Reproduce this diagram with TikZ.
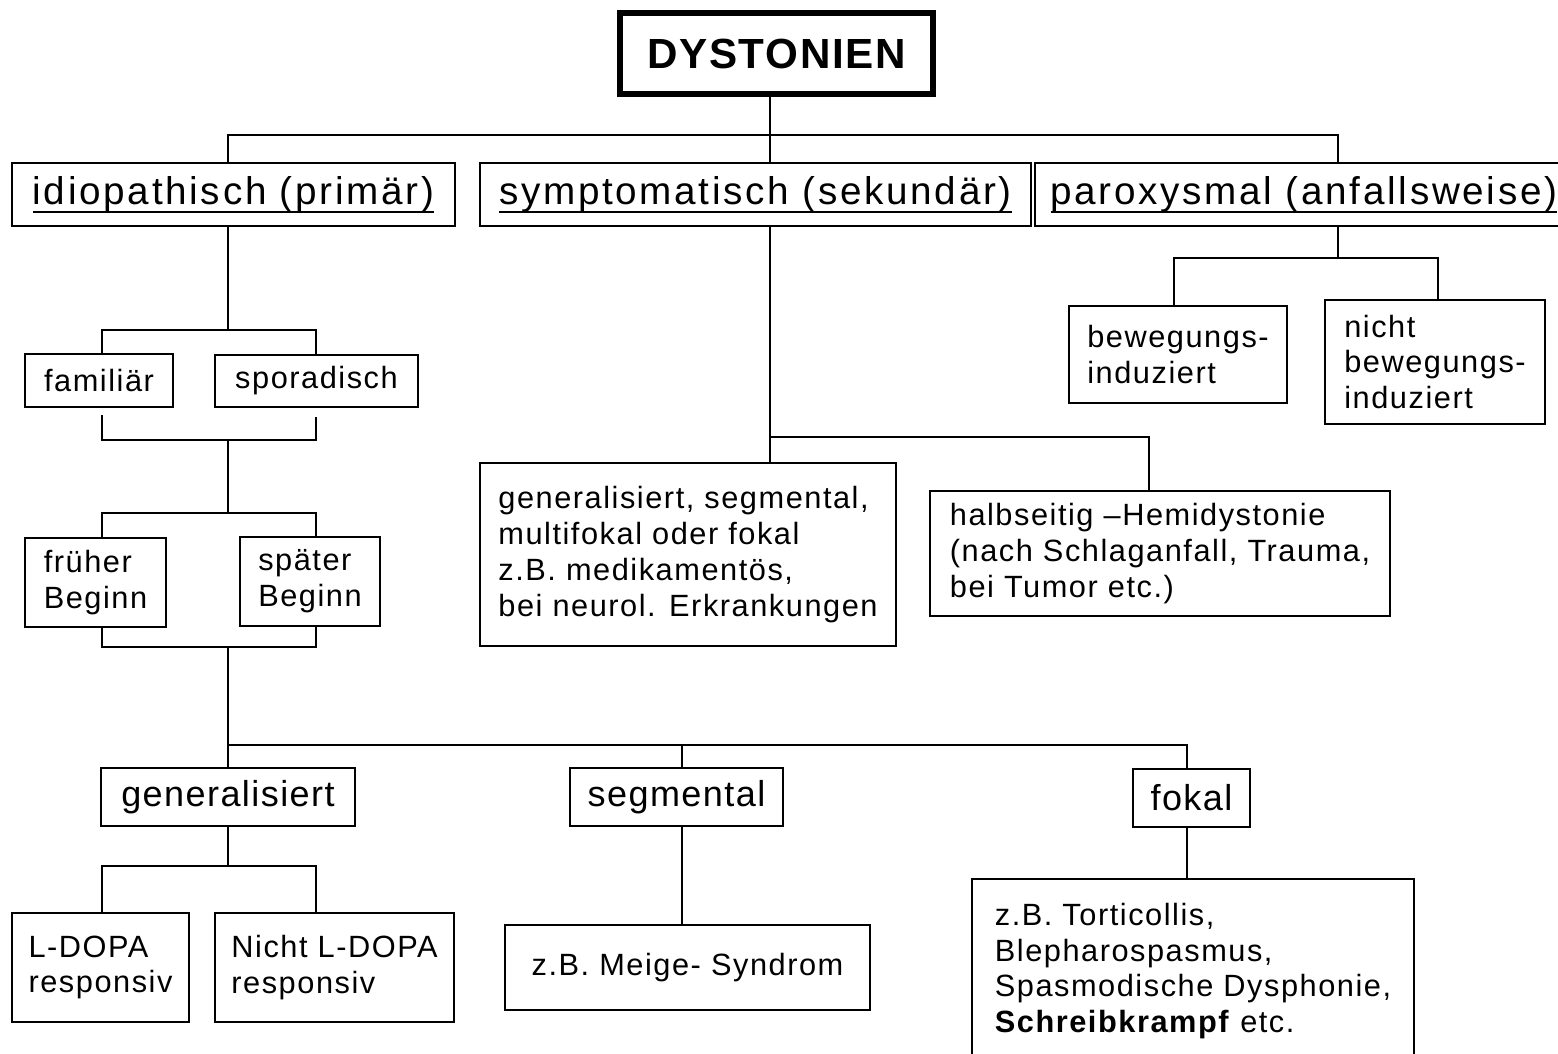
\documentclass[tikz,border=0pt]{standalone}
\usepackage{fontspec}
\setmainfont{Liberation Sans}
\newfontfamily\bodyfont{Liberation Sans}[LetterSpace=5]
\newfontfamily\headfont{Liberation Sans}[LetterSpace=7]
\newfontfamily\midfont{Liberation Sans}[LetterSpace=4]
\newfontfamily\titlefont{Liberation Sans}[LetterSpace=4]
\newcommand{\undl}[1]{\setbox0\hbox{#1}\rlap{\smash{\rule[-4.6pt]{\wd0}{1.1pt}}}\box0}
\tikzset{
   box/.style={draw, line width=1.1pt, inner sep=0pt, align=left, font=\bodyfont\fontsize{17.5}{20.4}\selectfont},
   boxsize/.style 2 args={minimum width=#1*0.02cm, minimum height=#2*0.02cm},
   head/.style={box, font=\headfont\fontsize{22}{26}\selectfont},
   mid/.style={box, font=\midfont\fontsize{20.5}{24}\selectfont},
   link/.style={line width=1.1pt}}

\begin{document}
\begin{tikzpicture}[x=0.02cm, y=-0.02cm]
\useasboundingbox (0,0) rectangle (1558,1054);

      \node [draw, line width=3.4pt, inner sep=0pt, boxsize={313}{81}, font=\titlefont\fontsize{24}{28}\selectfont\bfseries] at (776.5,53.5) (dyst) {DYSTONIEN};
         \node [head, boxsize={443}{63}] at (233.5,194.5) (idio) {\undl{idiopathisch (primär)}};
         \node [head, boxsize={551}{63}] at (755.5,194.5) (symp) {\undl{symptomatisch (sekundär)}};
         \node [head, boxsize={538}{63}] at (1304,194.5) (parox) {\undl{paroxysmal (anfallsweise)}};
%
            \node [box, boxsize={148}{53}] at (99,380.5) (famil) {familiär};
            \node [box, boxsize={203}{52}] at (316.5,381) (spor) {sporadisch};
            \node [box, boxsize={141}{89}] at (95.5,582.5) (frueh) {früher\\Beginn};
            \node [box, boxsize={140}{89}] at (310,581.5) (spaet) {später\\Beginn};
            \node [mid, boxsize={254}{58}] at (228,797) (gen) {generalisiert};
            \node [mid, boxsize={213}{58}] at (676.5,797) (seg) {segmental};
            \node [mid, boxsize={117}{58}] at (1191.5,798) (fok) {fokal};
            \node [box, boxsize={177}{109}] at (100.5,967.5) (ldopa) {L-DOPA\\responsiv};
            \node [box, boxsize={239}{109}] at (334.5,967.5) (nldopa) {Nicht L-DOPA\\responsiv};
            \node [box, boxsize={365}{85}] at (687.5,967.5) (meige) {z.B. Meige- Syndrom};
            \node [box, boxsize={442}{184}] at (1193,971) (fokbox) {z.B. Torticollis,\\Blepharospasmus,\\Spasmodische Dysphonie,\\\textbf{Schreibkrampf} etc.};
%
            \node [box, boxsize={416}{183}] at (688,554.5) (gsmf) {generalisiert, segmental,\\multifokal oder fokal\\z.B. medikamentös,\\bei neurol. Erkrankungen};
            \node [box, boxsize={460}{125}] at (1160,553.5) (halb) {halbseitig –Hemidystonie\\(nach Schlaganfall, Trauma,\\bei Tumor etc.)};
            \node [box, boxsize={218}{97}] at (1178,354.5) (bew) {bewegungs-\\induziert};
            \node [box, boxsize={220}{124}] at (1435,362) (nbew) {nicht\\bewegungs-\\induziert};
%
\coordinate (t0) at (228,135); \coordinate (t1) at (770,135); \coordinate (t2) at (1338,135);
\draw[link] (idio.north -| t0) -- (t0) -- (t2) -- (parox.north -| t2);
\draw[link] (dyst.south -| t1) -- (symp.north -| t1);
%
\coordinate (a1) at (102,330); \coordinate (a2) at (316,330);
\coordinate (a3) at (102,440); \coordinate (a4) at (316,440);
\coordinate (a5) at (102,513); \coordinate (a6) at (316,513);
\coordinate (a7) at (102,647); \coordinate (a8) at (316,647);
\draw[link] (idio.south -| t0) -- (t0 |- a1);
\draw[link] (famil.north -| a1) -- (a1) -- (a2) -- (spor.north -| a2);
\draw[link, shorten <=4pt, shorten >=5pt] (famil.south -| a3) -- (a3) -- (a4) -- (spor.south -| a4);
\draw[link] (t0 |- a3) -- (t0 |- a5);
\draw[link] (frueh.north -| a5) -- (a5) -- (a6) -- (spaet.north -| a6);
\draw[link] (frueh.south -| a7) -- (a7) -- (a8) -- (spaet.south -| a8);
\draw[link] (t0 |- a7) -- (gen.north -| t0);
%
\coordinate (b0) at (228,745); \coordinate (b1) at (682,745); \coordinate (b2) at (1187,745);
\draw[link] (b0) -- (b2) -- (fok.north -| b2);
\draw[link] (b1) -- (seg.north -| b1);
\coordinate (c1) at (102,866); \coordinate (c2) at (316,866);
\draw[link] (gen.south -| t0) -- (t0 |- c1);
\draw[link] (ldopa.north -| c1) -- (c1) -- (c2) -- (nldopa.north -| c2);
\draw[link] (seg.south -| b1) -- (meige.north -| b1);
\draw[link] (fok.south -| b2) -- (fokbox.north -| b2);
%
\coordinate (s0) at (770,437); \coordinate (s1) at (1149,437);
\draw[link] (symp.south -| s0) -- (gsmf.north -| s0);
\draw[link] (s0) -- (s1) -- (halb.north -| s1);
\coordinate (p0) at (1174,258); \coordinate (p1) at (1438,258);
\draw[link] (parox.south -| t2) -- (t2 |- p0);
\draw[link] (bew.north -| p0) -- (p0) -- (p1) -- (nbew.north -| p1);
%
\end{tikzpicture}
\end{document}
